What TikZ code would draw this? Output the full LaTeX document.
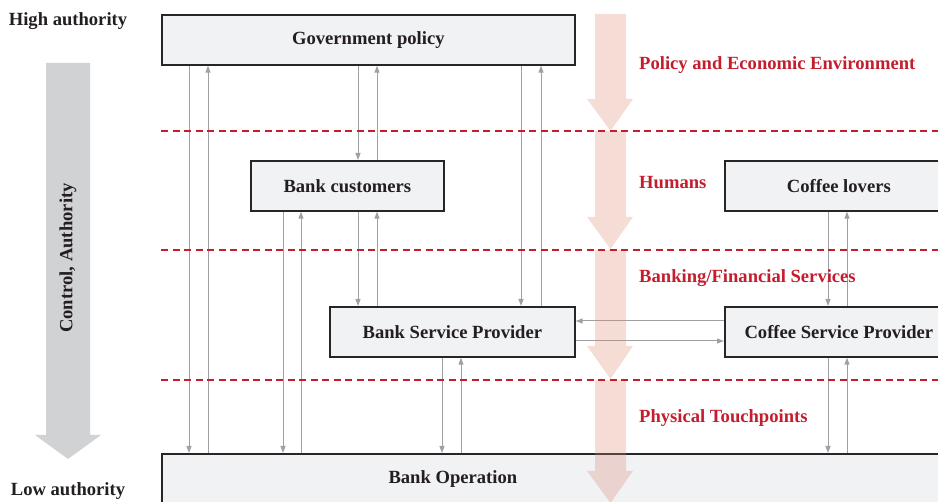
\documentclass[tikz,border=0pt]{standalone}
\usepackage{fontspec}
\setmainfont{Liberation Serif}
\usetikzlibrary{arrows.meta}
\definecolor{boxfill}{HTML}{F1F2F4}
\definecolor{boxline}{HTML}{262626}
\definecolor{connc}{HTML}{9FA0A4}
\definecolor{redd}{HTML}{C41E2E}
\definecolor{pinkar}{RGB}{220,138,114}
\definecolor{grayar}{HTML}{D1D2D4}
\definecolor{txt}{HTML}{231F20}
\begin{document}
\begin{tikzpicture}[x=1pt,y=-1pt,
  box/.style={draw=boxline, line width=1.7pt, fill=boxfill, anchor=north west,
    inner sep=0pt, minimum height=50pt, text=txt,
    font=\fontsize{18.6}{21}\selectfont\bfseries},
  conn/.style={draw=connc, line width=1pt, -{Triangle[length=7pt,width=5pt]}},
  sep/.style={draw=redd, line width=1.5pt, dash pattern=on 7pt off 4.5pt},
  lab/.style={text=redd, anchor=west, inner sep=0pt, font=\fontsize{18.6}{21}\selectfont\bfseries},
  side/.style={text=txt, inner sep=0pt, font=\fontsize{18.6}{21}\selectfont\bfseries},
  flow/.style={fill=pinkar, opacity=0.29}
]
\useasboundingbox (0,0) rectangle (938,502);
\clip (0,0) rectangle (938,502);

% authority arrow
\fill[grayar] (46,63) -- (90,63) -- (90,435) -- (101,435) -- (68,459) -- (35,435) -- (46,435) -- cycle;
\node[side, rotate=90] (ctl) at (68,258) {Control, Authority};
\node[side] (high) at (68,21.5) {High authority};
\node[side] (low) at (68,491.5) {Low authority};

% boxes
\node[box, minimum width=413pt] (gov) at (161,14) {Government policy};
\node[box, minimum width=193pt] (bc) at (250,160) {Bank customers};
\node[box, minimum width=245pt] (bsp) at (329,306) {Bank Service Provider};
\node[box, minimum width=228pt] (cl) at (724,160) {Coffee lovers};
\node[box, minimum width=228pt] (csp) at (724,306) {Coffee Service Provider};
\node[box, minimum width=791pt] (bo) at (161,453) {\makebox[582pt][c]{Bank Operation}\hspace*{209pt}};

% connectors
\draw[conn] ([xshift=28pt]gov.south west) -- ([xshift=28pt]bo.north west);
\draw[conn] ([xshift=47pt]bo.north west) -- ([xshift=47pt]gov.south west);
\draw[conn] ([xshift=197pt]gov.south west) -- ([xshift=108pt]bc.north west);
\draw[conn] ([xshift=127pt]bc.north west) -- ([xshift=216pt]gov.south west);
\draw[conn] ([xshift=360pt]gov.south west) -- ([xshift=192pt]bsp.north west);
\draw[conn] ([xshift=212pt]bsp.north west) -- ([xshift=380pt]gov.south west);
\draw[conn] ([xshift=33pt]bc.south west) -- ([xshift=122pt]bo.north west);
\draw[conn] ([xshift=140pt]bo.north west) -- ([xshift=51pt]bc.south west);
\draw[conn] ([xshift=108pt]bc.south west) -- ([xshift=29pt]bsp.north west);
\draw[conn] ([xshift=48pt]bsp.north west) -- ([xshift=127pt]bc.south west);
\draw[conn] ([xshift=113pt]bsp.south west) -- ([xshift=281pt]bo.north west);
\draw[conn] ([xshift=300pt]bo.north west) -- ([xshift=132pt]bsp.south west);
\draw[conn] ([xshift=104pt]cl.south west) -- ([xshift=104pt]csp.north west);
\draw[conn] ([xshift=123pt]csp.north west) -- ([xshift=123pt]cl.south west);
\draw[conn] ([xshift=104pt]csp.south west) -- ([xshift=667pt]bo.north west);
\draw[conn] ([xshift=686pt]bo.north west) -- ([xshift=123pt]csp.south west);
\draw[conn] ([yshift=-15pt]csp.north west) -- ([yshift=-15pt]bsp.north east);
\draw[conn] ([yshift=-35pt]bsp.north east) -- ([yshift=-35pt]csp.north west);

% flow arrows
\foreach \a/\b/\c in {14/99/131, 131/217/249, 250/346/379, 380/471/503}{
  \fill[flow] (595,\a) -- (626,\a) -- (626,\b) -- (633,\b) -- (610.5,\c) -- (587,\b) -- (595,\b) -- cycle;
}

% separators
\draw[sep] (161,131) -- (938,131);
\draw[sep] (161,250) -- (938,250);
\draw[sep] (161,380) -- (938,380);

% layer labels
\node[lab] (l1) at (639,65) {Policy and Economic Environment};
\node[lab] (l2) at (639,182.5) {Humans};
\node[lab] (l3) at (639,278) {Banking/Financial Services};
\node[lab] (l4) at (639,418) {Physical Touchpoints};
\end{tikzpicture}
\end{document}
